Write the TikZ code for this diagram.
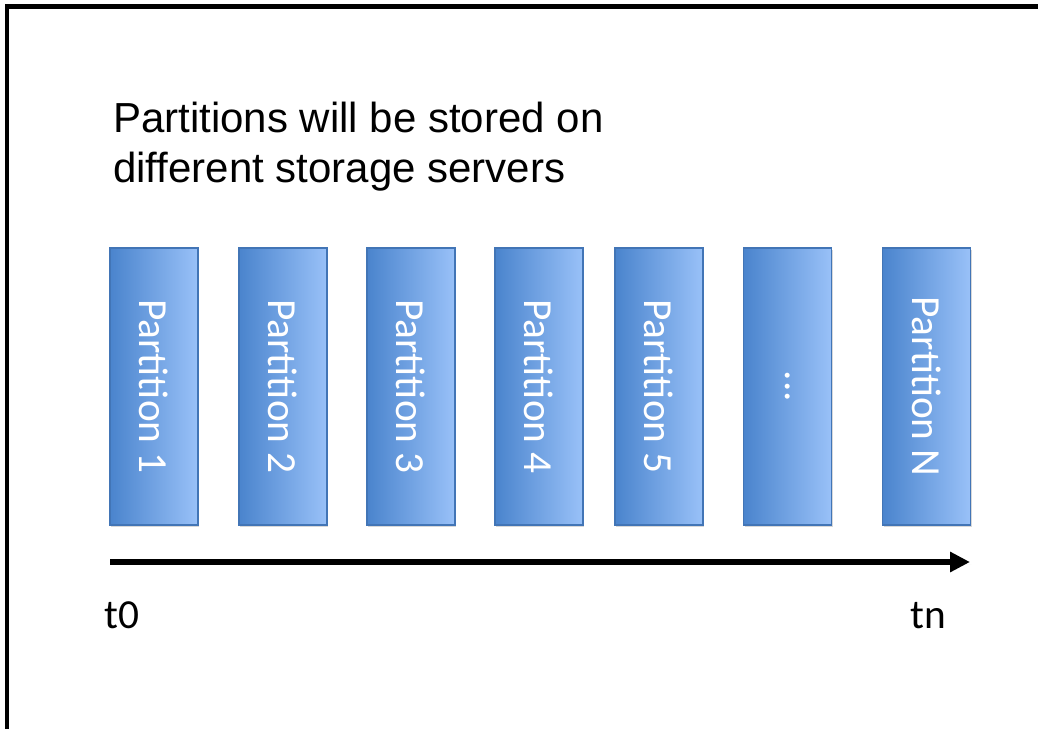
\documentclass[tikz,border=0pt]{standalone}
\usepackage{graphicx}
\usepackage{fontspec}
\setmainfont{Liberation Sans}
\newfontfamily\calibri{Carlito}
\usepackage{tikz}
\usetikzlibrary{arrows.meta,shadows}

\definecolor{partleft}{HTML}{4A84CD}
\definecolor{partright}{HTML}{99C1F8}
\definecolor{partborder}{HTML}{4275B6}

\tikzset{
  partbox/.style={draw=partborder, line width=0.8pt, left color=partleft, right color=partright,
    minimum width=66pt, minimum height=207.75pt, inner sep=0pt, text=white,
    font=\calibri\fontsize{31}{37}\selectfont,
    drop shadow={opacity=0.3, shadow xshift=1pt, shadow yshift=-1.8pt}},
  timelabel/.style={anchor=base west, inner sep=0pt, font=\calibri\fontsize{31}{37}\selectfont},
  titleline/.style={anchor=base west, inner sep=0pt, font=\fontsize{31.5}{37.5}\selectfont}
}

\begin{document}
\begin{tikzpicture}[x=0.75pt,y=-0.75pt]
	\useasboundingbox (0,0) rectangle (1038,728);
	\clip (0,0) rectangle (1038,728);
	\fill[white] (0,0) rectangle (1038,728);
	% frame
	\draw[line width=3.4pt] (7,760) -- (7,6.5) -- (1060,6.5);

	\node[titleline] (title1) at (113,132) {Partitions will be stored on};
	\node[titleline] (title2) at (113,182) {different storage servers};

	\node[partbox] (p1) at (154,386.5) {\rotatebox{-90}{Partition 1}};
	\node[partbox] (p2) at (283,386.5) {\rotatebox{-90}{Partition 2}};
	\node[partbox] (p3) at (411,386.5) {\rotatebox{-90}{Partition 3}};
	\node[partbox] (p4) at (539,386.5) {\rotatebox{-90}{Partition 4}};
	\node[partbox] (p5) at (659,386.5) {\rotatebox{-90}{Partition 5}};
	\node[partbox] (pdots) at (787.5,386.5) {\rotatebox{-90}{...}};
	\node[partbox] (pn) at (926.5,386.5) {\rotatebox{-90}{Partition N}};

	% time axis
	\coordinate (tstart) at (110,562);
	\coordinate (tend) at (970,562);
	\draw[line width=4.5pt, -{Triangle[length=15pt,width=14.5pt]},
		drop shadow={opacity=0.25, shadow xshift=1pt, shadow yshift=-1.5pt}] (tstart) -- (tend);

	\node[timelabel] (t0) at (104,628) {t0};
	\node[timelabel] (tn) at (910,628) {tn};
\end{tikzpicture}
\end{document}
